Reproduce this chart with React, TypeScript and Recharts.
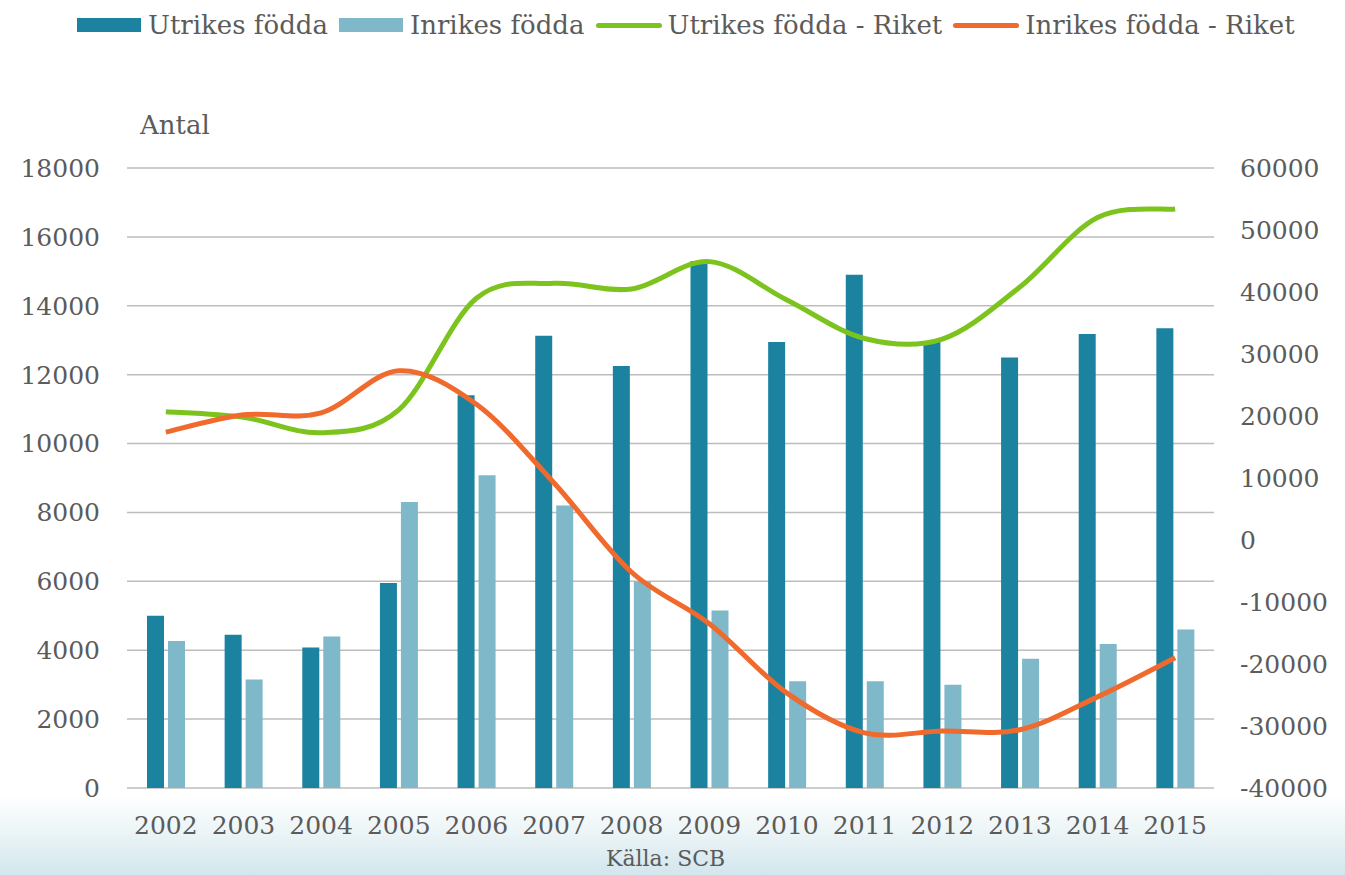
import React from 'react';
import { ComposedChart, Bar, Line, XAxis, YAxis, CartesianGrid, Legend } from 'recharts';

const years = ['2002', '2003', '2004', '2005', '2006', '2007', '2008', '2009', '2010', '2011', '2012', '2013', '2014', '2015'];
const utrikes = [5000, 4450, 4080, 5950, 11400, 13130, 12250, 15300, 12950, 14900, 12950, 12500, 13180, 13350];
const inrikes = [4270, 3150, 4400, 8300, 9080, 8200, 6000, 5150, 3100, 3100, 3000, 3750, 4180, 4600];
const utrikesRiket = [20700, 19800, 17300, 21000, 39000, 41400, 40500, 44900, 38700, 32500, 32400, 40800, 52000, 53400];
const inrikesRiket = [17400, 20200, 20500, 27300, 21900, 9200, -5200, -13500, -24700, -31100, -30800, -30600, -25300, -19000];

const leftTicks = [0, 2000, 4000, 6000, 8000, 10000, 12000, 14000, 16000, 18000];
const rightTicks = [-40000, -30000, -20000, -10000, 0, 10000, 20000, 30000, 40000, 50000, 60000];

const data = years.map((year, i) => ({
  year,
  utrikes: utrikes[i],
  inrikes: inrikes[i],
  utrikesRiket: utrikesRiket[i],
  inrikesRiket: inrikesRiket[i],
}));

const FONT = '"DejaVu Serif", Georgia, serif';
const TEXT = '#5b5b5b';
const DARK = '#1b82a0';
const LIGHT = '#7fb8c9';
const GREEN = '#7dc31e';
const ORANGE = '#ef6a2c';

// smoothed line like the spreadsheet's "smoothed line" (Catmull-Rom as bezier)
const smoothCurve = (context: any) => {
  let pts: number[][] = [];
  return {
    areaStart() {},
    areaEnd() {},
    lineStart() { pts = []; },
    point(x: number, y: number) { pts.push([+x, +y]); },
    lineEnd() {
      if (!pts.length) return;
      context.moveTo(pts[0][0], pts[0][1]);
      for (let i = 0; i < pts.length - 1; i++) {
        const p0 = pts[i - 1] || pts[i];
        const p1 = pts[i];
        const p2 = pts[i + 1];
        const p3 = pts[i + 2] || p2;
        context.bezierCurveTo(
          p1[0] + (p2[0] - p0[0]) / 6, p1[1] + (p2[1] - p0[1]) / 6,
          p2[0] - (p3[0] - p1[0]) / 6, p2[1] - (p3[1] - p1[1]) / 6,
          p2[0], p2[1],
        );
      }
    },
  };
};

const legendItems = [
  { name: 'Utrikes födda', color: DARK, kind: 'bar' },
  { name: 'Inrikes födda', color: LIGHT, kind: 'bar' },
  { name: 'Utrikes födda - Riket', color: GREEN, kind: 'line' },
  { name: 'Inrikes födda - Riket', color: ORANGE, kind: 'line' },
];

const renderLegend = () => (
  <div style={{ display: 'flex', alignItems: 'center', fontFamily: FONT, fontSize: 26, color: TEXT, whiteSpace: 'nowrap' }}>
    {legendItems.map((it) => (
      <div key={it.name} style={{ display: 'flex', alignItems: 'center', marginRight: 11 }}>
        {it.kind === 'bar' ? (
          <span style={{ display: 'inline-block', width: 64, height: 14, background: it.color, marginRight: 7 }} />
        ) : (
          <span style={{ display: 'inline-block', width: 66, height: 5, borderRadius: 3, background: it.color, marginRight: 6 }} />
        )}
        <span>{it.name}</span>
      </div>
    ))}
  </div>
);

const tickStyle = { fill: TEXT, fontSize: 25, fontFamily: FONT };

export default function App() {
  return (
    <div
      style={{
        position: 'absolute',
        left: 0,
        top: 0,
        width: 1345,
        height: 875,
        background: 'linear-gradient(to bottom, #ffffff 0px, #ffffff 795px, #edf5f7 830px, #d2e6ed 875px)',
      }}
    >
      <div style={{ position: 'absolute', left: 140, top: 110, fontFamily: FONT, fontSize: 26, color: TEXT }}>Antal</div>
      <div style={{ position: 'absolute', left: 606, top: 846, fontFamily: FONT, fontSize: 22, color: TEXT }}>Källa: SCB</div>
      <ComposedChart width={1345} height={875} data={data} margin={{ top: 168, right: 0, bottom: 0, left: 0 }} barSize={17} barGap={4}>
        <CartesianGrid yAxisId="left" vertical={false} stroke="#bdbdbd" strokeWidth={1.5} />
        <XAxis dataKey="year" height={87} axisLine={false} tickLine={false} tickSize={0} tickMargin={28} tick={tickStyle} interval={0} />
        <YAxis
          yAxisId="left"
          orientation="left"
          width={127}
          domain={[0, 18000]}
          ticks={leftTicks}
          axisLine={false}
          tickLine={false}
          tickSize={0}
          tickMargin={27}
          tick={tickStyle}
        />
        <YAxis
          yAxisId="right"
          orientation="right"
          width={131}
          domain={[-40000, 60000]}
          ticks={rightTicks}
          axisLine={false}
          tickLine={false}
          tickSize={0}
          tickMargin={26}
          tick={tickStyle}
        />
        <Legend
          layout="horizontal"
          verticalAlign="middle"
          align="center"
          content={renderLegend}
          wrapperStyle={{ top: 10, left: 77, width: 1268, height: 30 }}
        />
        <Bar yAxisId="left" dataKey="utrikes" name="Utrikes födda" fill={DARK} isAnimationActive={false} />
        <Bar yAxisId="left" dataKey="inrikes" name="Inrikes födda" fill={LIGHT} isAnimationActive={false} />
        <Line yAxisId="right" dataKey="utrikesRiket" name="Utrikes födda - Riket" type={smoothCurve as any} stroke={GREEN} strokeWidth={5} dot={false} activeDot={false} isAnimationActive={false} />
        <Line yAxisId="right" dataKey="inrikesRiket" name="Inrikes födda - Riket" type={smoothCurve as any} stroke={ORANGE} strokeWidth={5} dot={false} activeDot={false} isAnimationActive={false} />
      </ComposedChart>
    </div>
  );
}
